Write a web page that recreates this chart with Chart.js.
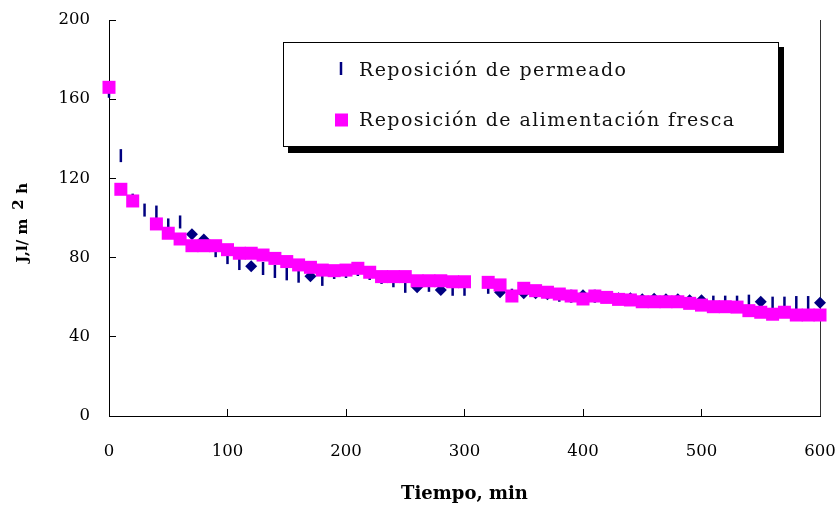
<!DOCTYPE html>
<html>
<head>
<meta charset="utf-8">
<script src="https://cdn.jsdelivr.net/npm/chart.js@4"></script>
<style>
  html, body { margin: 0; padding: 0; background: #fff; }
  #wrap { width: 840px; height: 506px; }
</style>
</head>
<body>
<div id="wrap"><canvas id="chart" width="840" height="506"></canvas></div>
<script>
// Flux vs time, two replenishment modes.
const tiempo = [0, 10, 20, 30, 40, 50, 60, 70, 80, 90,
  100, 110, 120, 130, 140, 150, 160, 170, 180, 190,
  200, 210, 220, 230, 240, 250, 260, 270, 280, 290,
  300, 310, 320, 330, 340, 350, 360, 370, 380, 390,
  400, 410, 420, 430, 440, 450, 460, 470, 480, 490,
  500, 510, 520, 530, 540, 550, 560, 570, 580, 590, 600];

const permeado = [164, 131.5, 109, 104, 103, 96.5, 98, 91.8, 89.2, 83.5,
  80, 77, 75.6, 74.5, 73, 71.8, 70.6, 70.6, 69, 72.5,
  73, 74, 72, 70, 68.3, 65.5, 65, 66, 63.6, 64,
  64, null, 65, 62.5, 61, 62, 62, 61.5, 61, 60.5,
  61, 60.5, 60, 59.5, 59.5, 59, 59.2, 59, 59, 58.5,
  58.5, 57.5, 57.5, 57.5, 58, 57.7, 57, 57, 57.3, 57.3, 57.2];

const fresca = [166, 114.5, 108.6, null, 97, 92.3, 89.4, 86, 86, 86,
  84, 82.2, 82.2, 81.3, 79.6, 78, 76.3, 75.1, 73.7, 73.4,
  73.7, 74.6, 72.6, 70.4, 70.4, 70.4, 68.3, 68.3, 68.3, 67.8,
  67.8, null, 67.5, 66.2, 60.6, 64.5, 63.3, 62.5, 61.6, 60.6,
  59.1, 60.6, 59.9, 58.9, 58.6, 57.7, 57.7, 57.7, 57.7, 56.9,
  56, 55.2, 55.2, 55, 53.2, 52.4, 51.4, 52.4, 51, 51, 51];

// times at which the permeado marker shows as a diamond instead of a dash
const permeadoRombos = [70, 80, 120, 170, 260, 280, 330, 350, 360, 370,
  400, 420, 430, 440, 450, 460, 470, 480, 490, 500, 550, 600];

const xTicks = [0, 100, 200, 300, 400, 500, 600];
const yTicks = [0, 40, 80, 120, 160, 200];

const labels = ['Reposición de permeado', 'Reposición de alimentación fresca'];

const NAVY = '#000080';
const MAGENTA = '#FF00FF';
const SERIF = '"DejaVu Serif", "Liberation Serif", serif';

const toPoints = (ys) => tiempo
  .map((t, i) => ({ x: t, y: ys[i] }))
  .filter((p) => p.y !== null);

const isRombo = (c) => c.raw && permeadoRombos.includes(c.raw.x);

// right frame line of the plot area
const frameRight = {
  id: 'frameRight',
  beforeDatasetsDraw(chart) {
    const { ctx, chartArea: a } = chart;
    ctx.save();
    ctx.strokeStyle = '#333';
    ctx.lineWidth = 1;
    ctx.beginPath();
    ctx.moveTo(Math.round(a.right) + 0.5, a.top);
    ctx.lineTo(Math.round(a.right) + 0.5, a.bottom);
    ctx.stroke();
    ctx.restore();
  },
};

// boxed legend with a drop shadow, inside the plot
const boxLegend = {
  id: 'boxLegend',
  afterDraw(chart) {
    const { ctx } = chart;
    const bx = 283, by = 42, bw = 496, bh = 105;
    ctx.save();
    ctx.fillStyle = '#000';
    ctx.fillRect(bx + 5, by + 5, bw, bh + 1);
    ctx.fillStyle = '#fff';
    ctx.fillRect(bx, by, bw, bh);
    ctx.strokeStyle = '#000';
    ctx.lineWidth = 1;
    ctx.strokeRect(bx + 0.5, by + 0.5, bw - 1, bh - 1);

    // dash marker
    ctx.strokeStyle = NAVY;
    ctx.lineWidth = 2.5;
    ctx.beginPath();
    ctx.moveTo(341, 62);
    ctx.lineTo(341, 75);
    ctx.stroke();
    // square marker
    ctx.fillStyle = MAGENTA;
    ctx.fillRect(335, 113.5, 13, 13);

    ctx.fillStyle = '#111';
    ctx.font = '19px ' + SERIF;
    ctx.textBaseline = 'alphabetic';
    ctx.textAlign = 'left';
    if ('letterSpacing' in ctx) ctx.letterSpacing = '1.4px';
    ctx.fillText(chart.data.datasets[1].label, 359, 75.5);
    ctx.fillText(chart.data.datasets[0].label, 359, 126);
    ctx.restore();
  },
};

// rotated y title with raised "2"
const yTitle = {
  id: 'yTitle',
  afterDraw(chart) {
    const { ctx } = chart;
    ctx.save();
    ctx.translate(27, 221);
    ctx.rotate(-Math.PI / 2);
    ctx.fillStyle = '#000';
    ctx.font = 'bold 15px ' + SERIF;
    ctx.textBaseline = 'alphabetic';
    ctx.textAlign = 'left';
    const a = 'J,l/ m', b = '2', c = 'h';
    const gap = 9;
    const wa = ctx.measureText(a).width;
    const wb = ctx.measureText(b).width;
    const wc = ctx.measureText(c).width;
    let x = -(wa + wb + wc + gap * 2) / 2;
    ctx.fillText(a, x, 0);
    x += wa + gap;
    ctx.fillText(b, x, -4);
    x += wb + gap * 0.6;
    ctx.fillText(c, x, 0);
    ctx.restore();
  },
};

new Chart(document.getElementById('chart'), {
  type: 'scatter',
  data: {
    datasets: [
      {
        label: labels[1],
        data: toPoints(fresca),
        order: 1,
        pointStyle: 'rect',
        pointRadius: 9.2,
        pointBackgroundColor: MAGENTA,
        pointBorderWidth: 0,
        clip: false,
      },
      {
        label: labels[0],
        data: toPoints(permeado),
        order: 2,
        pointStyle: (c) => (isRombo(c) ? 'rectRot' : 'line'),
        pointRotation: (c) => (isRombo(c) ? 0 : 90),
        pointRadius: (c) => (isRombo(c) ? 6 : 6.5),
        pointBackgroundColor: NAVY,
        pointBorderColor: NAVY,
        pointBorderWidth: (c) => (isRombo(c) ? 0 : 2.5),
        clip: false,
      },
    ],
  },
  options: {
    responsive: false,
    animation: false,
    events: [],
    layout: { padding: { left: 0, right: 20, top: 20, bottom: 0 } },
    plugins: {
      legend: { display: false },
      tooltip: { enabled: false },
    },
    scales: {
      x: {
        type: 'linear',
        min: 0,
        max: 600,
        afterBuildTicks: (s) => { s.ticks = xTicks.map((v) => ({ value: v })); },
        afterFit: (s) => {
          s.height = 90;
          s.paddingLeft = 0;
          s.paddingRight = 0;
        },
        grid: { drawOnChartArea: false, drawTicks: true, tickLength: -7, color: '#000' },
        border: { color: '#000', width: 1 },
        ticks: {
          color: '#000',
          padding: 33,
          maxRotation: 0,
          font: { family: SERIF, size: 16.5 },
        },
        title: {
          display: true,
          text: 'Tiempo, min',
          color: '#000',
          font: { family: SERIF, size: 18, weight: 'bold' },
          padding: { top: 0, bottom: 1 },
        },
      },
      y: {
        type: 'linear',
        min: 0,
        max: 200,
        afterBuildTicks: (s) => { s.ticks = yTicks.map((v) => ({ value: v })); },
        afterFit: (s) => {
          s.width = 109;
          s.paddingTop = 0;
          s.paddingBottom = 0;
        },
        grid: { drawOnChartArea: false, drawTicks: true, tickLength: -7, color: '#000' },
        border: { color: '#000', width: 1 },
        ticks: {
          color: '#000',
          padding: 26,
          font: { family: SERIF, size: 16.5 },
        },
      },
    },
  },
  plugins: [frameRight, boxLegend, yTitle],
});
</script>
</body>
</html>
